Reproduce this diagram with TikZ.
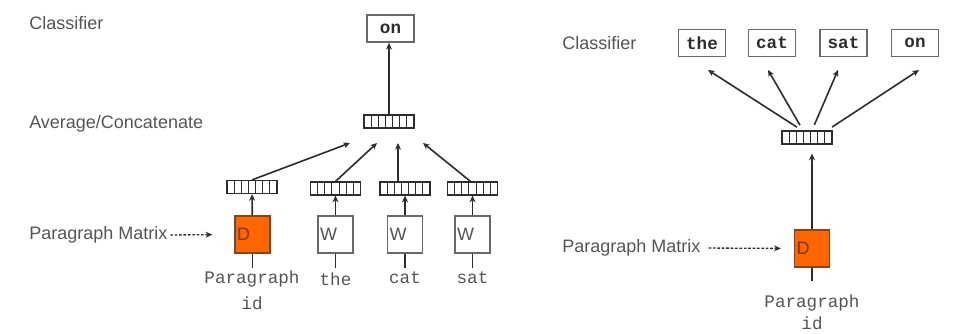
\documentclass[tikz,border=0pt]{standalone}
\usepackage{fontspec}
\setmainfont{Liberation Sans}
\setmonofont{Liberation Mono}
\usetikzlibrary{arrows.meta,positioning,calc}
\definecolor{ink}{RGB}{45,45,45}
\definecolor{fog}{RGB}{85,85,85}
\definecolor{rim}{RGB}{105,105,105}
\definecolor{tangerine}{RGB}{255,102,0}
\definecolor{rust}{RGB}{130,50,10}
\tikzset{
  >={Stealth[length=5pt,width=4.5pt]},
  tag/.style={font=\fontsize{13.5}{16}\selectfont,text=fog,inner sep=0pt},
  word/.style={font=\ttfamily\fontsize{13.2}{20}\selectfont,text=fog,align=center,inner sep=0pt},
  outbox/.style={draw=rim,line width=1.3pt,minimum width=35.25pt,minimum height=20.25pt,inner sep=0pt,
    font=\ttfamily\bfseries\fontsize{13.2}{15}\selectfont,text=ink},
  wbox/.style={draw=rim,line width=1.1pt,minimum height=27.75pt,text width=23pt,inner xsep=1.6pt,
    align=left,font=\fontsize{13.5}{16}\selectfont,text=fog},
  dbox/.style={wbox,draw=ink!60!tangerine,fill=tangerine,text=rust},
  vec/.style={draw=ink,line width=0.9pt,minimum width=37.5pt,minimum height=9.75pt,inner sep=0pt,
    path picture={
      \foreach \i in {1,...,6}
        \draw[ink,line width=0.8pt] ($(path picture bounding box.south west)!\i/7!(path picture bounding box.south east)$) -- ++(0,9.75pt);
    }},
  arr/.style={->,draw=ink,line width=1.2pt},
  stub/.style={draw=ink,line width=1.2pt},
  dots/.style={->,draw=ink,line width=1pt,dash pattern=on 2pt off 1.3pt},
}
\begin{document}
\begin{tikzpicture}[x=0.75pt,y=-0.75pt]
  \useasboundingbox (0,0) rectangle (953,334);
  % left model
  \node[tag,anchor=west] (clsL) at (29,23) {Classifier};
  \node[tag,anchor=west] (avgL) at (29,124) {Average/Concatenate};
  \node[tag,anchor=west] (pmL) at (29,235) {Paragraph Matrix};
  \node[outbox] (onL) at (390.5,28.5) {on};
  \node[vec] (avgv) at (389,121.5) {};
  \draw[arr] (avgv) -- (avgv |- onL.south);
  \node[dbox] (dL) at (252.5,234.5) {D};
  \node[vec] (vD) at (252,187) {};
  \node[word,anchor=north] (pidL) at (252,270) {Paragraph\\id};
  \draw[arr] (dL) -- (vD);
  \draw[stub] (dL.south) -- ++(0,14);
  \draw[dots,shorten <=2pt,shorten >=16.5pt] (pmL.east) -- (dL.west);
  \coordinate (tD) at (350,143);
  \draw[arr] (vD.north) -- (tD);
  \foreach \n/\x/\tx/\sx in {the/335.5/377/0,cat/405/398/-7,sat/472.5/423/-2}{
    \node[wbox] (w\n) at (\x,234.5) {W};
    \node[vec] (v\n) at (\x,188.5) {};
    \node[word,anchor=north] (t\n) at (\x,272) {\n};
    \draw[arr] (w\n) -- (v\n);
    \draw[stub] (w\n.south) -- ++(0,14);
    \coordinate (h\n) at (\tx,143);
    \draw[arr] ($(v\n.north)+(\sx,0)$) -- (h\n);
  }
  % right model
  \node[tag,anchor=west] (clsR) at (562,43) {Classifier};
  \node[tag,anchor=west] (pmR) at (562,248) {Paragraph Matrix};
  \node[vec] (vR) at (807,137.5) {};
  \foreach \n/\x/\tx/\sx in {the/702/708/-5,cat/772/768/-4,sat/843.5/838/5,on/915/919/20}{
    \node[outbox] (o\n) at (\x,43) {\n};
    \coordinate (k\n) at (\tx,70);
    \draw[arr,shorten <=4.5pt] ($(vR.north)+(\sx,0)$) -- (k\n);
  }
  \node[dbox] (dR) at (812,248.5) {D};
  \draw[arr,shorten >=6.75pt] (dR.north) -- (dR.north |- vR.south);
  \draw[stub] (dR.south) -- ++(0,13);
  \draw[dots,shorten <=6pt,shorten >=9.75pt] (pmR.east) -- (dR.west);
  \node[word,anchor=north,font=\ttfamily\fontsize{13.2}{17}\selectfont] (pidR) at (812,294) {Paragraph\\id};
\end{tikzpicture}
\end{document}
